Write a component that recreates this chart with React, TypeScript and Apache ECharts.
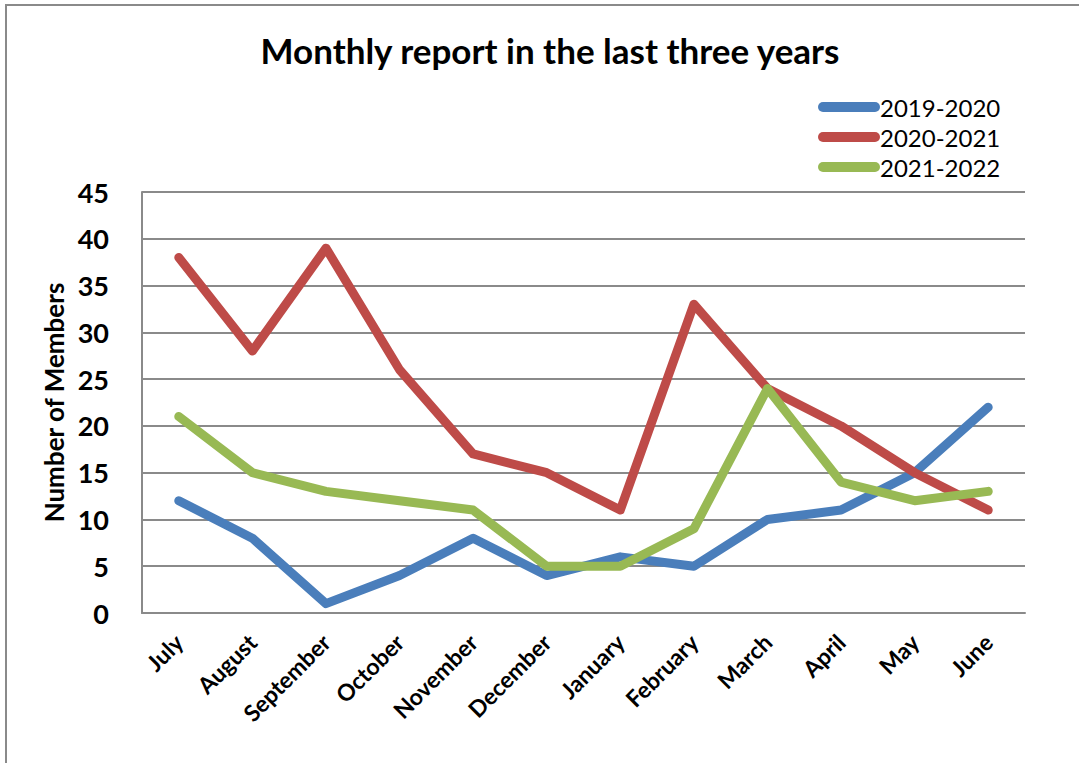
import React, { useEffect, useRef } from "react";
import * as echarts from "echarts";

const months = ["July", "August", "September", "October", "November", "December", "January", "February", "March", "April", "May", "June"];
const s2019 = [12, 8, 1, 4, 8, 4, 6, 5, 10, 11, 15, 22];
const s2020 = [38, 28, 39, 26, 17, 15, 11, 33, 24, 20, 15, 11];
const s2021 = [21, 15, 13, 12, 11, 5, 5, 9, 24, 14, 12, 13];
const seriesNames = ["2019-2020", "2020-2021", "2021-2022"];
const colors = ["#4A7EBB", "#BE4B48", "#98B954"];

const FONT = "Lato, 'Open Sans', sans-serif";

export default function App() {
  const ref = useRef<HTMLDivElement>(null);
  useEffect(() => {
    if (!ref.current) return;
    const chart = echarts.init(ref.current, undefined, { renderer: "svg" });
    const data = [s2019, s2020, s2021];
    chart.setOption({
      animation: false,
      backgroundColor: "#ffffff",
      title: {
        text: "Monthly report in the last three years",
        left: 545,
        textAlign: "center",
        top: 27,
        textStyle: { fontFamily: FONT, fontWeight: "bold", fontSize: 35, color: "#000" },
      },
      graphic: [
        {
          type: "rect",
          shape: { x: 6, y: 5, width: 1200, height: 900 },
          style: { fill: "none", stroke: "#8a8a8a", lineWidth: 2 },
          silent: true,
        },
      ],
      legend: {
        orient: "vertical",
        left: 818,
        top: 95,
        padding: 0,
        itemWidth: 62,
        itemHeight: 11,
        itemGap: 6,
        icon: "path://M5,0 L57,0 A5,5 0 0 1 57,10 L5,10 A5,5 0 0 1 5,0 Z",
        textStyle: { fontFamily: FONT, fontSize: 24, color: "#000", padding: [0, 0, 0, -5] },
        data: seriesNames,
      },
      grid: { left: 142, right: 54, top: 192, bottom: 150 },
      xAxis: {
        type: "category",
        data: months,
        boundaryGap: true,
        axisLine: { lineStyle: { color: "#8a8a8a", width: 2 } },
        axisTick: { show: false },
        axisLabel: {
          rotate: 45,
          margin: 25,
          interval: 0,
          fontFamily: FONT,
          fontWeight: "bold",
          fontSize: 23,
          color: "#000",
        },
      },
      yAxis: {
        type: "value",
        min: 0,
        max: 45,
        interval: 5,
        name: "Number of Members",
        nameLocation: "middle",
        nameGap: 74,
        nameTextStyle: { fontFamily: FONT, fontWeight: "bold", fontSize: 26, color: "#000" },
        axisLine: { show: true, lineStyle: { color: "#8a8a8a", width: 2 } },
        splitLine: { lineStyle: { color: "#8a8a8a", width: 2 } },
        axisLabel: { margin: 33, fontFamily: FONT, fontWeight: "bold", fontSize: 27, color: "#000" },
      },
      series: seriesNames.map((n, i) => ({
        name: n,
        type: "line",
        data: data[i],
        showSymbol: false,
        symbol: "none",
        color: colors[i],
        lineStyle: { width: 9, color: colors[i], cap: "round", join: "round" },
      })),
    });
    return () => chart.dispose();
  }, []);
  return <div ref={ref} style={{ position: "fixed", left: 0, top: 0, width: 1079, height: 763 }} />;
}
